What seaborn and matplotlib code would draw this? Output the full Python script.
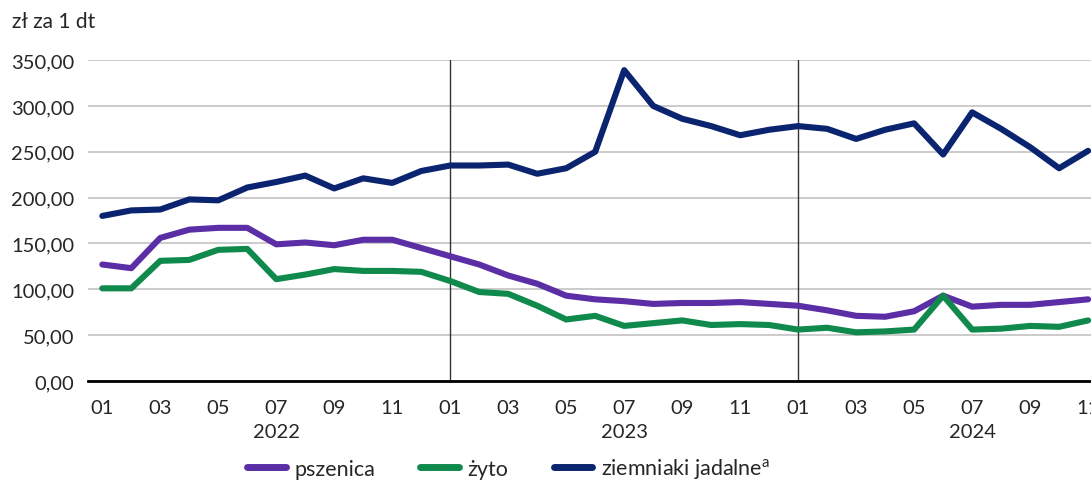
import matplotlib
matplotlib.use("Agg")
import matplotlib.pyplot as plt
import matplotlib.transforms as mtransforms
import seaborn as sns
import pandas as pd

# monthly prices, 01.2022 - 11.2024
months = ['01', '02', '03', '04', '05', '06', '07', '08', '09', '10', '11', '12'] * 2 + \
         ['01', '02', '03', '04', '05', '06', '07', '08', '09', '10', '11']
years = ['2022', '2023', '2024']

pszenica = [127, 123, 156, 165, 167, 167, 149, 151, 148, 154, 154, 145,
            136, 127, 115, 106, 93, 89, 87, 84, 85, 85, 86, 84,
            82, 77, 71, 70, 76, 93, 81, 83, 83, 86, 89]
zyto = [101, 101, 131, 132, 143, 144, 111, 116, 122, 120, 120, 119,
        109, 97, 95, 82, 67, 71, 60, 63, 66, 61, 62, 61,
        56, 58, 53, 54, 56, 93, 56, 57, 60, 59, 66]
ziemniaki = [180, 186, 187, 198, 197, 211, 217, 224, 210, 221, 216, 229,
             235, 235, 236, 226, 232, 250, 339, 300, 286, 278, 268, 274,
             278, 275, 264, 274, 281, 247, 293, 275, 255, 232, 251]

series_names = ['pszenica', 'żyto', 'ziemniaki jadalne$^{\\mathregular{a}}$']
colors = ['#5b2ea6', '#0f8a4c', '#0b2470']

n = len(months)
df = pd.DataFrame({
    'idx': list(range(n)) * 3,
    'value': pszenica + zyto + ziemniaki,
    'series': [series_names[0]] * n + [series_names[1]] * n + [series_names[2]] * n,
})

sns.set_style('white')
plt.rcParams['font.family'] = ['Lato', 'DejaVu Sans']
plt.rcParams['mathtext.fontset'] = 'custom'
plt.rcParams['mathtext.rm'] = 'Lato'

fig = plt.figure(figsize=(10.91, 4.81), dpi=100)
ax = fig.add_axes([0.081, 0.206, 0.919, 0.667])

sns.lineplot(data=df, x='idx', y='value', hue='series', hue_order=series_names,
             palette=colors, linewidth=4.4, ax=ax, legend=True, zorder=3)

ax.set_ylim(0, 350)
ax.set_xlim(-0.48, n - 0.9)
ax.set_yticks(range(0, 351, 50))
ax.set_yticklabels([f'{v},00' for v in range(0, 351, 50)], fontsize=14.5)
ax.yaxis.grid(True, color='#bdbdbd', linewidth=1.1)
ax.set_axisbelow(True)

ax.set_xticks(range(n))
ax.set_xticklabels([m if i % 2 == 0 else '' for i, m in enumerate(months)], fontsize=14.5)
ax.tick_params(axis='x', direction='in', length=5, width=1.5, color='black', pad=13)
ax.tick_params(axis='y', length=0, pad=10)

for s in ['top', 'right', 'left']:
    ax.spines[s].set_visible(False)
ax.spines['bottom'].set_color('black')
ax.spines['bottom'].set_linewidth(2)

# year separators
for x in [12, 24]:
    ax.axvline(x, color='#333333', linewidth=1, zorder=2)

trans = mtransforms.blended_transform_factory(ax.transData, ax.transAxes)
for i, y in enumerate(years):
    ax.text(6 + 12 * i, -0.159, y, transform=trans, ha='center', va='center', fontsize=14.5)

ax.set_xlabel('')
ax.set_ylabel('')
fig.text(0.011, 0.955, 'zł za 1 dt', fontsize=15, ha='left', va='center')

leg = ax.legend(loc='center', bbox_to_anchor=(0.419, -0.274), ncol=3, frameon=False,
                fontsize=15.5, handlelength=1.8, columnspacing=2.1, handletextpad=0.4)
for h in leg.get_lines():
    h.set_linewidth(5)

fig.savefig('out.png', dpi=100)
